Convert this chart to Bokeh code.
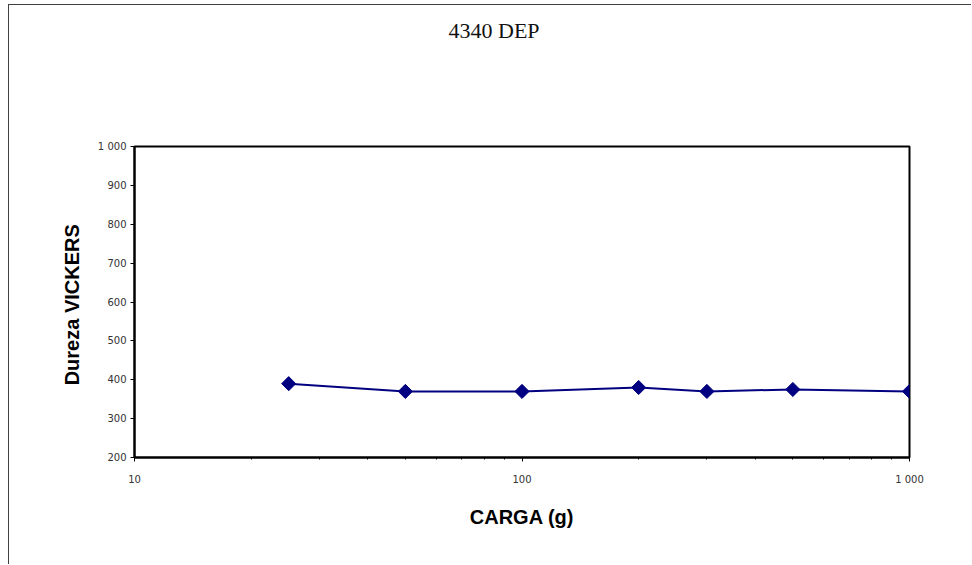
from bokeh.plotting import figure
from bokeh.models import FixedTicker
from bokeh.embed import file_html
from bokeh.resources import INLINE

# data
carga = [25, 50, 100, 200, 300, 500, 1000]
dureza = [390, 370, 370, 380, 370, 375, 370]

x_major = [10, 100, 1000]
x_minor = [20, 30, 40, 50, 60, 70, 80, 90, 200, 300, 400, 500, 600, 700, 800, 900]
y_major = [200, 300, 400, 500, 600, 700, 800, 900, 1000]
x_labels = {10: "10", 100: "100", 1000: "1 000"}
y_labels = {1000: "1 000"}

title_text = "4340 DEP"
x_label = "CARGA (g)"
y_label = "Dureza  VICKERS"

p = figure(width=963, height=560, x_axis_type="log",
           x_range=(10, 1000), y_range=(200, 1000),
           output_backend="svg", toolbar_location=None,
           margin=(4, 0, 0, 8),
           min_border_left=125, min_border_right=63,
           min_border_top=141, min_border_bottom=108)
p.styles = {"border-left": "1px solid #404040", "border-top": "1px solid #404040"}

xax = p.below[0]
yax = p.left[0]

p.title.text = title_text
p.title.align = "left"
p.title.offset = 314
p.title.text_font = "Liberation Serif"
p.title.text_font_style = "normal"
p.title.text_font_size = "22px"
p.title.text_color = "#111111"
if "padding" in p.title.properties():
    p.title.padding = dict(left=0, right=0, top=0, bottom=99)
else:
    p.title.standoff = 100

p.xgrid.visible = False
p.ygrid.visible = False
p.outline_line_color = "black"
p.outline_line_width = 2
p.outline_line_alpha = 1

xax.ticker = FixedTicker(ticks=x_major, minor_ticks=x_minor)
yax.ticker = FixedTicker(ticks=y_major, minor_ticks=[])
xax.major_label_overrides = x_labels
yax.major_label_overrides = y_labels

for ax in (xax, yax):
    ax.axis_line_color = "black"
    ax.axis_line_width = 2
    ax.major_tick_line_color = "black"
    ax.major_tick_in = 0
    ax.major_tick_out = 4
    ax.minor_tick_line_color = "black"
    ax.minor_tick_in = 0
    ax.minor_tick_out = 2
    ax.major_label_text_font = "DejaVu Sans"
    ax.major_label_text_font_size = "10px"
    ax.major_label_text_color = "#333333"
    ax.axis_label_text_font = "Liberation Sans"
    ax.axis_label_text_font_style = "bold"
    ax.axis_label_text_font_size = "20px"
    ax.axis_label_text_color = "black"

xax.axis_label = x_label
yax.axis_label = y_label
xax.major_label_standoff = 12
xax.axis_label_standoff = 18
yax.major_label_standoff = 4
yax.axis_label_standoff = 12

p.line(carga, dureza, line_color="#000080", line_width=2)
p.scatter(carga, dureza, marker="square", angle=0.785398, size=10,
          fill_color="#000080", line_color="#000080")

open("out.html", "w").write(file_html(p, INLINE))
